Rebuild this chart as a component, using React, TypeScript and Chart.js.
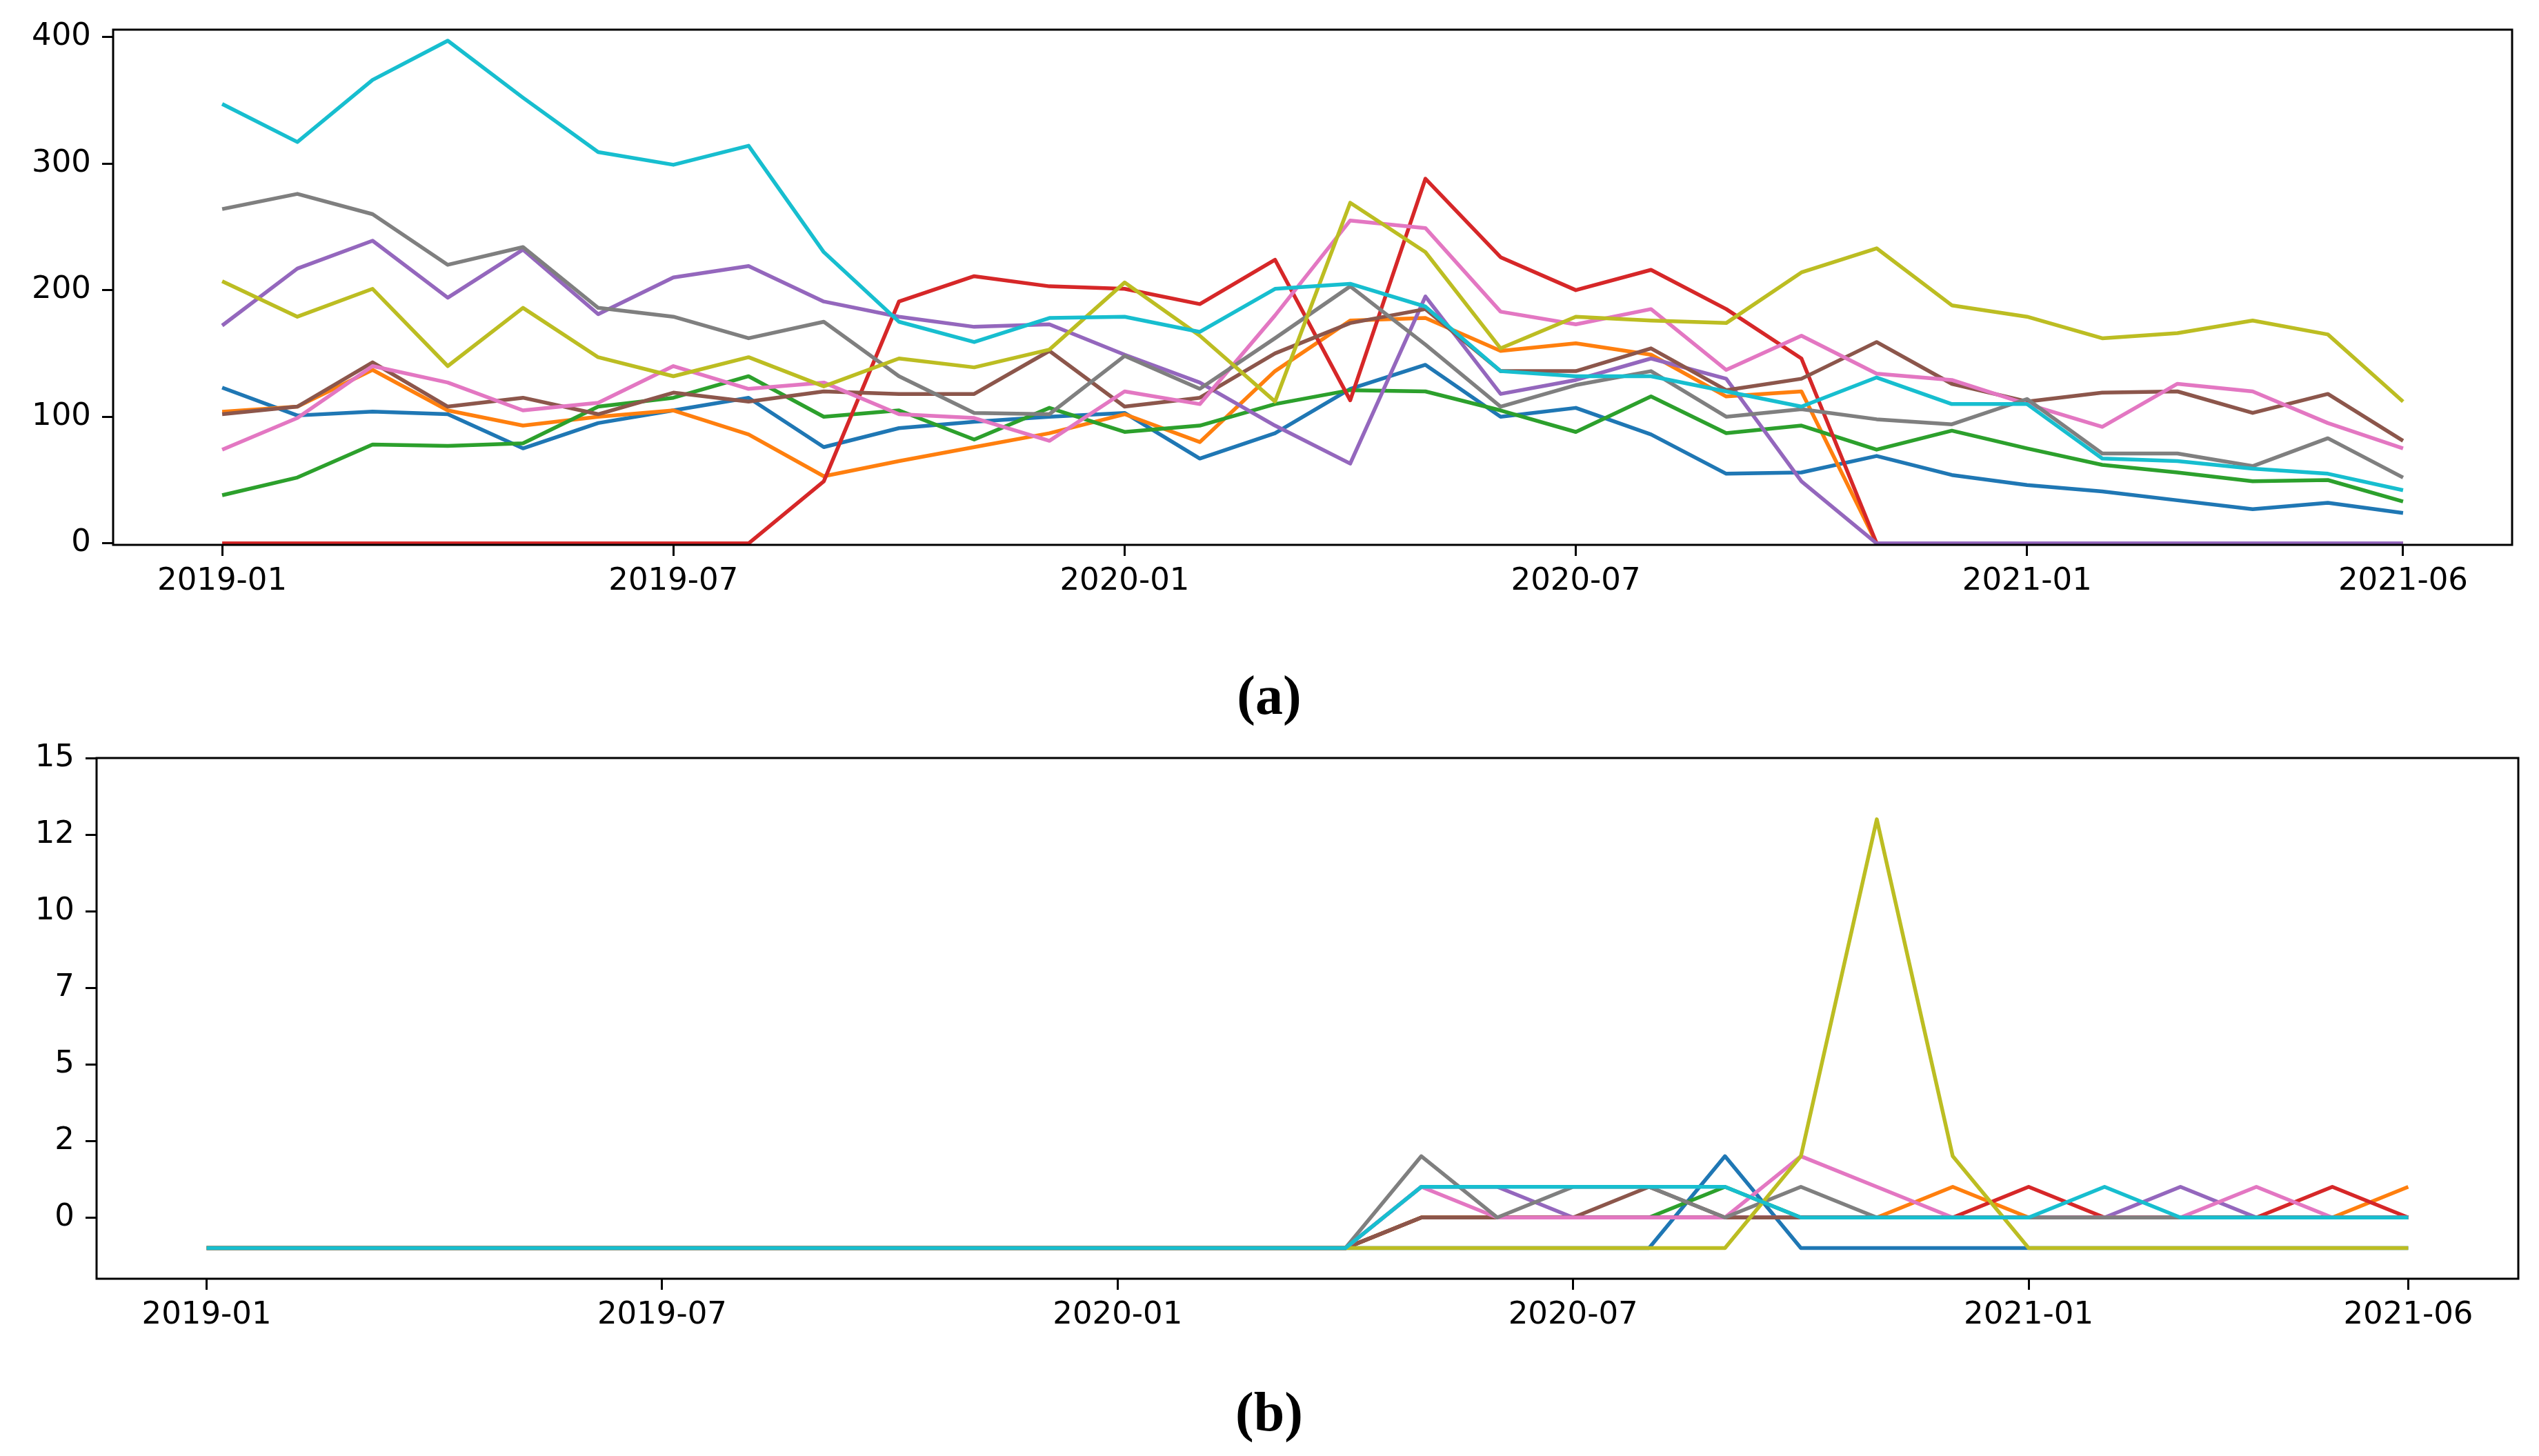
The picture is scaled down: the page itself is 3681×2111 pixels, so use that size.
import React, { useEffect, useRef } from 'react';
import { Chart, registerables } from 'chart.js';

Chart.register(...registerables);

// ---------- data ----------
const months = [
  '2019-01', '2019-02', '2019-03', '2019-04', '2019-05', '2019-06',
  '2019-07', '2019-08', '2019-09', '2019-10', '2019-11', '2019-12',
  '2020-01', '2020-02', '2020-03', '2020-04', '2020-05', '2020-06',
  '2020-07', '2020-08', '2020-09', '2020-10', '2020-11', '2020-12',
  '2021-01', '2021-02', '2021-03', '2021-04', '2021-05', '2021-06',
];
const xTickIndices = [0, 6, 12, 18, 24, 29];

const topYTicks = [0, 100, 200, 300, 400];
const topYTickLabels = ['0', '100', '200', '300', '400'];
const bottomYTicks = [0, 2.5, 5, 7.5, 10, 12.5, 15];
const bottomYTickLabels = ['0', '2', '5', '7', '10', '12', '15'];

const seriesColors = [
  '#1f77b4', '#ff7f0e', '#2ca02c', '#d62728', '#9467bd',
  '#8c564b', '#e377c2', '#7f7f7f', '#bcbd22', '#17becf',
];

// (a) top panel
const topBlue = [123, 101, 104, 102, 75, 95, 105, 115, 76, 91, 96, 100, 103, 67, 87, 122, 141, 100, 107, 86, 55, 56, 69, 54, 46, 41, 34, 27, 32, 24];
const topOrange = [104, 108, 137, 105, 93, 100, 105, 86, 53, 65, 76, 87, 102, 80, 136, 176, 178, 152, 158, 149, 116, 120, 0, 0, 0, 0, 0, 0, 0, 0];
const topGreen = [38, 52, 78, 77, 79, 108, 115, 132, 100, 105, 82, 107, 88, 93, 110, 121, 120, 105, 88, 116, 87, 93, 74, 89, 75, 62, 56, 49, 50, 33];
const topRed = [0, 0, 0, 0, 0, 0, 0, 0, 49, 191, 211, 203, 201, 189, 224, 113, 288, 226, 200, 216, 185, 146, 0, 0, 0, 0, 0, 0, 0, 0];
const topPurple = [172, 217, 239, 194, 232, 181, 210, 219, 191, 179, 171, 173, 149, 127, 93, 63, 195, 118, 129, 146, 130, 49, 0, 0, 0, 0, 0, 0, 0, 0];
const topBrown = [102, 108, 143, 108, 115, 102, 119, 112, 120, 118, 118, 152, 108, 115, 150, 174, 185, 136, 136, 154, 121, 130, 159, 126, 112, 119, 120, 103, 118, 81];
const topPink = [74, 99, 140, 127, 105, 111, 140, 122, 127, 102, 99, 81, 120, 110, 180, 255, 249, 183, 173, 185, 137, 164, 134, 129, 110, 92, 126, 120, 95, 75];
const topGray = [264, 276, 260, 220, 234, 186, 179, 162, 175, 132, 103, 102, 148, 122, 162, 203, 157, 108, 125, 136, 100, 106, 98, 94, 114, 71, 71, 61, 83, 52];
const topOlive = [207, 179, 201, 140, 186, 147, 132, 147, 124, 146, 139, 153, 206, 164, 112, 269, 230, 154, 179, 176, 174, 214, 233, 188, 179, 162, 166, 176, 165, 112];
const topCyan = [347, 317, 366, 397, 352, 309, 299, 314, 230, 175, 159, 178, 179, 167, 201, 205, 187, 136, 132, 132, 120, 108, 131, 110, 110, 67, 65, 59, 55, 42];

// (b) bottom panel
const botBlue = [-1, -1, -1, -1, -1, -1, -1, -1, -1, -1, -1, -1, -1, -1, -1, -1, -1, -1, -1, -1, 2, -1, -1, -1, -1, -1, -1, -1, -1, -1];
const botOrange = [-1, -1, -1, -1, -1, -1, -1, -1, -1, -1, -1, -1, -1, -1, -1, -1, 0, 0, 0, 0, 0, 0, 0, 1, 0, 0, 0, 0, 0, 1];
const botGreen = [-1, -1, -1, -1, -1, -1, -1, -1, -1, -1, -1, -1, -1, -1, -1, -1, 0, 0, 0, 0, 1, 0, 0, 0, 0, 0, 0, 0, 0, 0];
const botRed = [-1, -1, -1, -1, -1, -1, -1, -1, -1, -1, -1, -1, -1, -1, -1, -1, 0, 0, 0, 0, 0, 0, 0, 0, 1, 0, 0, 0, 1, 0];
const botPurple = [-1, -1, -1, -1, -1, -1, -1, -1, -1, -1, -1, -1, -1, -1, -1, -1, 1, 1, 0, 0, 0, 0, 0, 0, 0, 0, 1, 0, 0, 0];
const botBrown = [-1, -1, -1, -1, -1, -1, -1, -1, -1, -1, -1, -1, -1, -1, -1, -1, 0, 0, 0, 1, 0, 0, 0, 0, 0, 0, 0, 0, 0, 0];
const botPink = [-1, -1, -1, -1, -1, -1, -1, -1, -1, -1, -1, -1, -1, -1, -1, -1, 1, 0, 0, 0, 0, 2, 1, 0, 0, 0, 0, 1, 0, 0];
const botGray = [-1, -1, -1, -1, -1, -1, -1, -1, -1, -1, -1, -1, -1, -1, -1, -1, 2, 0, 1, 1, 0, 1, 0, 0, 0, 0, 0, 0, 0, 0];
const botOlive = [-1, -1, -1, -1, -1, -1, -1, -1, -1, -1, -1, -1, -1, -1, -1, -1, -1, -1, -1, -1, -1, 2, 13, 2, -1, -1, -1, -1, -1, -1];
const botCyan = [-1, -1, -1, -1, -1, -1, -1, -1, -1, -1, -1, -1, -1, -1, -1, -1, 1, 1, 1, 1, 1, 0, 0, 0, 0, 1, 0, 0, 0, 0];

const topSeries = [topBlue, topOrange, topGreen, topRed, topPurple, topBrown, topPink, topGray, topOlive, topCyan];
const bottomSeries = [botBlue, botOrange, botGreen, botRed, botPurple, botBrown, botPink, botGray, botOlive, botCyan];

// ---------- chart helpers ----------
const framePlugin = {
  id: 'frameBox',
  afterDraw(chart: any) {
    const { ctx, chartArea } = chart;
    ctx.save();
    ctx.strokeStyle = '#000';
    ctx.lineWidth = 3;
    ctx.strokeRect(chartArea.left, chartArea.top, chartArea.right - chartArea.left, chartArea.bottom - chartArea.top);
    ctx.restore();
  },
};

type Geo = { yAxisWidth: number; xAxisHeight: number; padTop: number; padRight: number };

function buildConfig(series: number[][], yMin: number, yMax: number, yTicks: number[], yLabels: string[], geo: Geo): any {
  const datasets = series.map((vals, si) => ({
    data: vals.map((v, i) => ({ x: i, y: v })),
    borderColor: seriesColors[si],
    backgroundColor: seriesColors[si],
    borderWidth: 5.5,
    pointRadius: 0,
    tension: 0,
    fill: false,
    borderJoinStyle: 'round',
    order: series.length - si,
  }));
  const tickFont = { family: 'DejaVu Sans', size: 45 };
  return {
    type: 'line',
    data: { datasets },
    plugins: [framePlugin],
    options: {
      animation: false,
      responsive: true,
      maintainAspectRatio: false,
      devicePixelRatio: 1,
      layout: { padding: { top: geo.padTop, right: geo.padRight, left: 0, bottom: 0 } },
      plugins: { legend: { display: false }, tooltip: { enabled: false }, title: { display: false } },
      scales: {
        x: {
          type: 'linear',
          min: -1.45,
          max: 30.45,
          border: { display: false },
          grid: { display: true, drawOnChartArea: false, drawTicks: true, tickLength: 16, tickWidth: 3, tickColor: '#000' },
          afterBuildTicks: (scale: any) => {
            scale.ticks = xTickIndices.map((v) => ({ value: v }));
          },
          afterFit: (scale: any) => {
            scale.height = geo.xAxisHeight;
          },
          ticks: {
            autoSkip: false,
            maxRotation: 0,
            minRotation: 0,
            padding: 10,
            color: '#000',
            font: tickFont,
            callback: (value: number) => months[Math.round(value)],
          },
        },
        y: {
          type: 'linear',
          min: yMin,
          max: yMax,
          border: { display: false },
          grid: { display: true, drawOnChartArea: false, drawTicks: true, tickLength: 16, tickWidth: 3, tickColor: '#000' },
          afterBuildTicks: (scale: any) => {
            scale.ticks = yTicks.map((v) => ({ value: v }));
          },
          afterFit: (scale: any) => {
            scale.width = geo.yAxisWidth;
          },
          ticks: {
            autoSkip: false,
            padding: 16,
            color: '#000',
            font: tickFont,
            callback: (_v: number, index: number) => yLabels[index],
          },
        },
      },
    },
  };
}

function LineChart(props: { config: any; style: React.CSSProperties }) {
  const ref = useRef<HTMLCanvasElement | null>(null);
  useEffect(() => {
    if (!ref.current) return;
    const chart = new Chart(ref.current, props.config);
    return () => chart.destroy();
  }, []);
  return (
    <div style={{ position: 'absolute', ...props.style }}>
      <canvas ref={ref} />
    </div>
  );
}

const captionStyle: React.CSSProperties = {
  position: 'absolute',
  left: 1640,
  width: 400,
  height: 80,
  lineHeight: '80px',
  textAlign: 'center',
  fontFamily: '"Liberation Serif", serif',
  fontWeight: 'bold',
  fontSize: 80,
  color: '#000',
};

export default function App() {
  const topConfig = buildConfig(topSeries, -1.2, 405.7, topYTicks, topYTickLabels, {
    yAxisWidth: 164,
    xAxisHeight: 140,
    padTop: 42,
    padRight: 39,
  });
  const bottomConfig = buildConfig(bottomSeries, -2, 15, bottomYTicks, bottomYTickLabels, {
    yAxisWidth: 140,
    xAxisHeight: 126,
    padTop: 169,
    padRight: 30,
  });
  return (
    <div style={{ position: 'absolute', left: 0, top: 0, width: 3681, height: 2111, background: '#fff', overflow: 'hidden' }}>
      <LineChart config={topConfig} style={{ left: 0, top: 0, width: 3681, height: 930 }} />
      <LineChart config={bottomConfig} style={{ left: 0, top: 930, width: 3681, height: 1050 }} />
      <div style={{ ...captionStyle, top: 1016 - 48 }}>(a)</div>
      <div style={{ ...captionStyle, top: 2055 - 48 }}>(b)</div>
    </div>
  );
}
